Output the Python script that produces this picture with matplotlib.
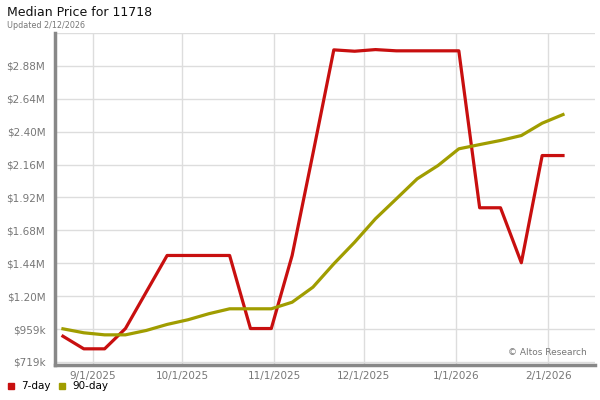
import matplotlib
matplotlib.use('Agg')
import matplotlib.pyplot as plt
import matplotlib.dates as mdates
from matplotlib.patches import Rectangle
import pandas as pd

# weekly dates and median prices (in $k)
dates = pd.date_range('2025-08-22', '2026-02-06', freq='7D')
day7 = [907, 815, 815, 963, 1230, 1496, 1496, 1496, 1496, 963, 963, 1496, 2240,
        2996, 2986, 2998, 2989, 2989, 2989, 2989, 1844, 1844, 1443, 2225, 2225]
day90 = [961, 932, 917, 917, 949, 993, 1027, 1071, 1107, 1107, 1107, 1155, 1265,
         1435, 1593, 1764, 1909, 2055, 2152, 2274, 2305, 2335, 2371, 2461, 2524]
yticks = [719, 959, 1199, 1439, 1679, 1919, 2159, 2399, 2639, 2879, 3119]
ylabels = ['$719k', '$959k', '$1.20M', '$1.44M', '$1.68M', '$1.92M', '$2.16M',
           '$2.40M', '$2.64M', '$2.88M', '']
xticks = pd.to_datetime(['2025-09-01', '2025-10-01', '2025-11-01', '2025-12-01',
                         '2026-01-01', '2026-02-01'])

red = '#c80f0f'
olive = '#a09d00'

fig = plt.figure(figsize=(6, 4), dpi=100)
ax = fig.add_axes([55/600, 1 - 365/400, 540/600, 332/400])

ax.plot(dates, day7, color=red, lw=2.3, zorder=3)
ax.plot(dates, day90, color=olive, lw=2.3, zorder=3)

ax.set_xlim(pd.Timestamp('2025-08-19 08:00'), pd.Timestamp('2026-02-16 18:00'))
ax.set_ylim(697, 3119)
ax.set_yticks(yticks)
ax.set_yticklabels(ylabels)
ax.set_xticks(xticks)
ax.xaxis.set_major_formatter(mdates.DateFormatter('%-m/%-d/%Y'))

ax.grid(True, color='#dddddd', lw=1)
ax.set_axisbelow(True)
ax.tick_params(length=0, labelsize=7.5, colors='#777777')
ax.tick_params(axis='y', pad=7)
ax.tick_params(axis='x', pad=4)
for s in ['top', 'right']:
    ax.spines[s].set_visible(False)
for s in ['left', 'bottom']:
    ax.spines[s].set_color('#888888')
    ax.spines[s].set_linewidth(2.5)

ax.text(0.985, 0.025, '© Altos Research', transform=ax.transAxes,
        ha='right', va='bottom', fontsize=6.5, color='#777777')

fig.text(7/600, 1 - 13/400, 'Median Price for 11718', fontsize=9,
         va='center', ha='left', color='#111111')
fig.text(7/600, 1 - 25/400, 'Updated 2/12/2026', fontsize=5.8, va='center',
         ha='left', color='#777777')

# legend
for x0, c, lab in [(8, red, '7-day'), (59, olive, '90-day')]:
    fig.patches.append(Rectangle((x0/600, 1 - 389/400), 6/600, 6/400,
                                 transform=fig.transFigure, color=c))
    fig.text((x0 + 13)/600, 1 - 386/400, lab, fontsize=7.5, va='center', ha='left')

fig.savefig('out.png', dpi=100)
